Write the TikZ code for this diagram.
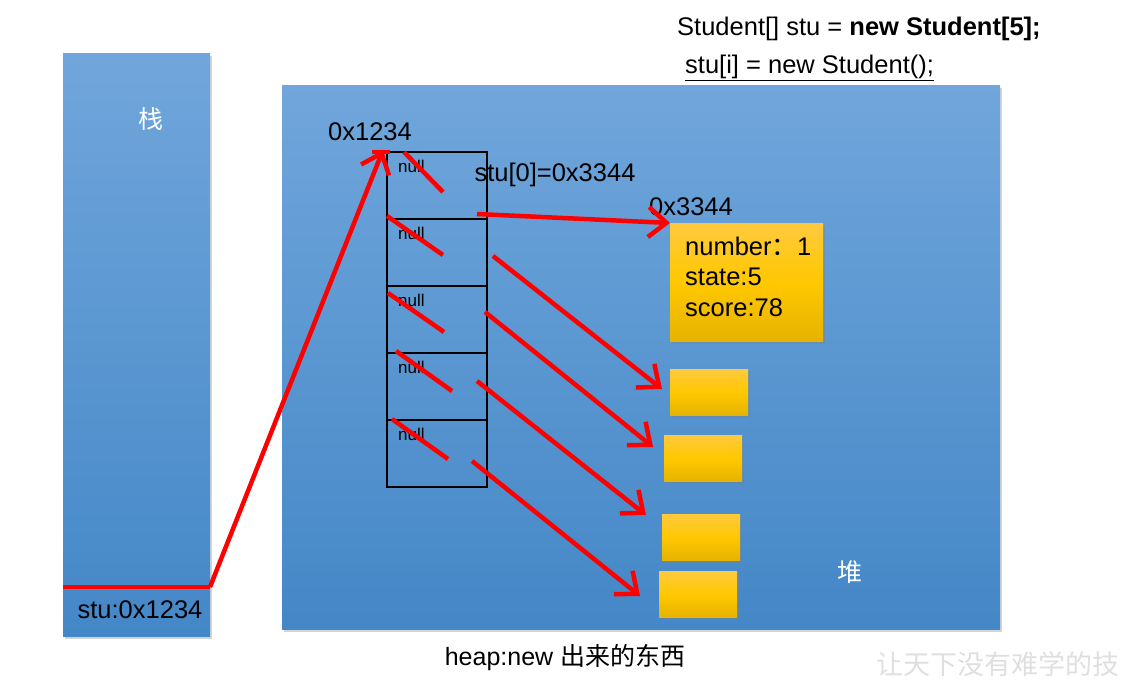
\documentclass[tikz,border=0pt]{standalone}
\usepackage{fontspec}
\setmainfont{Liberation Sans}
\newfontfamily\cjk{Noto Sans CJK SC}
\usetikzlibrary{positioning,shadows,arrows.meta}
\definecolor{areatop}{HTML}{70A6DB}
\definecolor{areabot}{HTML}{4487C7}
\definecolor{goldtop}{HTML}{FFC93E}
\definecolor{goldmid}{HTML}{FFC800}
\definecolor{goldbot}{HTML}{E6B300}
\tikzset{
  area/.style={rectangle,anchor=north west,inner sep=0pt,top color=areatop,bottom color=areabot,drop shadow={shadow xshift=2pt,shadow yshift=-3pt,opacity=.35}},
  obj/.style={rectangle,anchor=north west,inner sep=0pt,top color=goldtop,bottom color=goldbot,middle color=goldmid,drop shadow={shadow xshift=2pt,shadow yshift=-3pt,opacity=.35}},
  cell/.style={rectangle,draw=black,line width=1.5pt,minimum width=100pt,minimum height=67pt,outer sep=0pt,inner sep=0pt},
  txt/.style={inner sep=0pt,font=\fontsize{25.5}{30}\selectfont},
  cjktxt/.style={inner sep=0pt,font=\cjk\fontsize{25}{30}\selectfont},
  nulltxt/.style={inner sep=0pt,anchor=north west,font=\fontsize{17}{20}\selectfont},
  redline/.style={draw=red,line width=4.5pt},
  redarrow/.style={redline,-{Straight Barb[length=18pt,width=30pt]}},
}
\newcommand{\ra}[2]{\draw[redarrow] (#1) -- (#2);}

\begin{document}
\begin{tikzpicture}[x=1pt,y=-1pt]
    \useasboundingbox (0,0) rectangle (1127,690);
    \node[area,minimum width=147pt,minimum height=583pt] (stack) at (63,53) {};
    \node[area,minimum width=718pt,minimum height=544pt] (heap) at (282,85) {};
    \node[cjktxt,text=white] (stacklabel) at (151,119) {栈};
    \node[cjktxt,text=white] (heaplabel) at (850,572) {堆};
    \node[txt] (stuvar) at (140,610) {stu:0x1234};
    \node[txt] (addr1) at (370,132) {0x1234};
    \node[txt] (addr2) at (691,207) {0x3344};
    \node[txt] (elem) at (555,175) {stu[0]=0x3344};
    \node[txt,anchor=west] (line1) at (677,29) {Student[] stu = \textbf{new Student[5];}};
    \node[txt,anchor=west] (line2) at (685,68) {\underline{stu[i] = new Student();}};
    \node[cjktxt] (caption) at (565,658) {{\fontspec{Liberation Sans}heap:new }出来的东西};
    \node[cjktxt,anchor=west,text=gray!25,font=\cjk\fontsize{27}{32}\selectfont] (mark) at (876,664) {让天下没有难学的技};

    \node[cell,anchor=north west] (c1) at (387,152) {};
    \node[cell,below=0pt of c1] (c2) {};
    \node[cell,below=0pt of c2] (c3) {};
    \node[cell,below=0pt of c3] (c4) {};
    \node[cell,below=0pt of c4] (c5) {};
    \foreach \i in {1,...,5}
        \node[nulltxt] (n\i) at ([shift={(11,8)}]c\i.north west) {null};

    \node[obj,minimum width=153pt,minimum height=118pt] (o0) at (670,223) {};
    \node[obj,minimum width=78pt,minimum height=46pt] (o1) at (670,369) {};
    \node[obj,minimum width=78pt,minimum height=46pt] (o2) at (664,435) {};
    \node[obj,minimum width=78pt,minimum height=46pt] (o3) at (662,514) {};
    \node[obj,minimum width=78pt,minimum height=46pt] (o4) at (659,571) {};
    \node[txt,anchor=west] (f1) at (685,246) {number{\cjk ：}1};
    \node[txt,anchor=west] (f2) at (685,277) {state:5};
    \node[txt,anchor=west] (f3) at (685,308) {score:78};

    \draw[redline] (404,152) -- (443,192);
    \draw[redline] (387,216) -- (443,255);
    \draw[redline] (388,293) -- (444,332);
    \draw[redline] (396,351) -- (452,391);
    \draw[redline] (392,419) -- (448,459);
    \draw[redline] (372,152) -- (390,152);

    \coordinate (sp) at (63,587);
    \coordinate (sb) at (210,587);
    \coordinate (top) at (383,150);
    \draw[redline] (sp) -- (sb);
    \ra{sb}{top}

    \coordinate (s0) at (477,214);
    \coordinate (s1) at (493,256);
    \coordinate (s2) at (485,312);
    \coordinate (s3) at (477,381);
    \coordinate (s4) at (472,461);
    \coordinate (e1) at (662,389);
    \coordinate (e2) at (653,447);
    \coordinate (e3) at (646,515);
    \coordinate (e4) at (640,596);
    \ra{s0}{o0.north west}
    \ra{s1}{e1}
    \ra{s2}{e2}
    \ra{s3}{e3}
    \ra{s4}{e4}
\end{tikzpicture}
\end{document}
